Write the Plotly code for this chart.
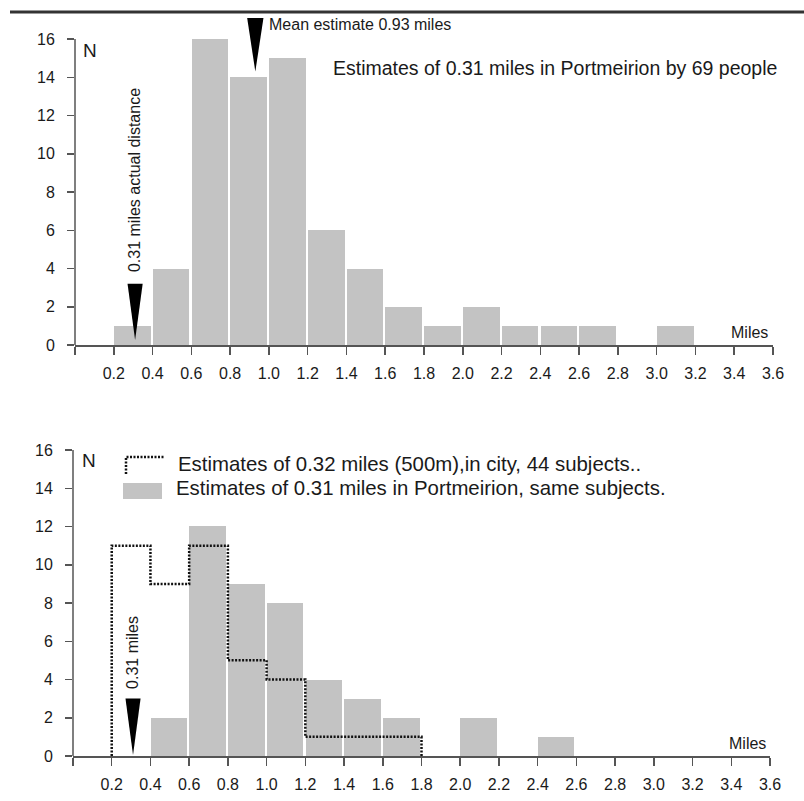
import plotly.graph_objects as go

# ---------------- data ----------------
BIN_WIDTH = 0.2
TOP_BIN_STARTS = [0.2, 0.4, 0.6, 0.8, 1.0, 1.2, 1.4, 1.6, 1.8, 2.0, 2.2, 2.4, 2.6, 2.8, 3.0]
TOP_COUNTS = [1, 4, 16, 14, 15, 6, 4, 2, 1, 2, 1, 1, 1, 0, 1]

BOTTOM_BIN_STARTS = [0.4, 0.6, 0.8, 1.0, 1.2, 1.4, 1.6, 1.8, 2.0, 2.2, 2.4]
PORTMEIRION_COUNTS = [2, 12, 9, 8, 4, 3, 2, 0, 2, 0, 1]

CITY_BIN_STARTS = [0.2, 0.4, 0.6, 0.8, 1.0, 1.2, 1.4, 1.6]
CITY_COUNTS = [11, 9, 11, 5, 4, 1, 1, 1]

ACTUAL_DISTANCE = 0.31
MEAN_ESTIMATE = 0.93

X_TICK_VALUES = [0.0, 0.2, 0.4, 0.6, 0.8, 1.0, 1.2, 1.4, 1.6, 1.8, 2.0,
                 2.2, 2.4, 2.6, 2.8, 3.0, 3.2, 3.4, 3.6]
X_TICK_LABELS = ["", "0.2", "0.4", "0.6", "0.8", "1.0", "1.2", "1.4", "1.6", "1.8",
                 "2.0", "2.2", "2.4", "2.6", "2.8", "3.0", "3.2", "3.4", "3.6"]
Y_TICK_VALUES = [0, 2, 4, 6, 8, 10, 12, 14, 16]
Y_TICK_LABELS = ["0", "2", "4", "6", "8", "10", "12", "14", "16"]

# ---------------- style ----------------
FONT = "Liberation Sans, Arial, Helvetica, sans-serif"
TXT = "#1a1a1a"
BAR = "#c3c3c3"
AX = "#555555"
W, H = 804, 801

fig = go.Figure()

fig.add_trace(go.Bar(x=TOP_BIN_STARTS, y=TOP_COUNTS, width=BIN_WIDTH * 0.945, offset=0.001,
                     marker=dict(color=BAR, line=dict(width=0)), xaxis="x", yaxis="y",
                     showlegend=False, hoverinfo="skip"))
fig.add_trace(go.Bar(x=BOTTOM_BIN_STARTS, y=PORTMEIRION_COUNTS, width=BIN_WIDTH * 0.945, offset=0.001,
                     marker=dict(color=BAR, line=dict(width=0)), xaxis="x2", yaxis="y2",
                     showlegend=False, hoverinfo="skip"))

# city step outline
step_x = [CITY_BIN_STARTS[0]] + CITY_BIN_STARTS + [CITY_BIN_STARTS[-1] + BIN_WIDTH]
step_y = [0] + CITY_COUNTS + [0]
fig.add_trace(go.Scatter(x=step_x, y=step_y, mode="lines", line_shape="hv",
                         line=dict(color="#111111", width=2.5, dash="2px,1.5px"),
                         xaxis="x2", yaxis="y2", showlegend=False, hoverinfo="skip"))

axis_common = dict(showgrid=False, zeroline=False, ticks="outside", tickcolor=AX,
                   tickwidth=1.5, automargin=False,
                   tickfont=dict(family=FONT, size=16, color=TXT))

fig.update_layout(
    width=W, height=H, autosize=False,
    margin=dict(l=0, r=0, t=0, b=0, pad=0),
    paper_bgcolor="white", plot_bgcolor="white",
    bargap=0,
    xaxis=dict(domain=[75 / W, 773 / W], range=[0, 3.6], tickvals=X_TICK_VALUES,
               ticktext=X_TICK_LABELS, ticklen=8, showline=True, linecolor=AX, linewidth=1.5,
               anchor="y", ticklabelstandoff=5, **axis_common),
    yaxis=dict(domain=[1 - 345 / H, 1 - 8.4 / H], range=[0, 17.6], tickvals=Y_TICK_VALUES,
               ticktext=Y_TICK_LABELS, ticklen=7, showline=False, anchor="x",
               ticklabelstandoff=9, **axis_common),
    xaxis2=dict(domain=[73 / W, 770 / W], range=[0, 3.6], tickvals=X_TICK_VALUES,
                ticktext=X_TICK_LABELS, ticklen=8, showline=True, linecolor=AX, linewidth=1.5,
                anchor="y2", ticklabelstandoff=5, **axis_common),
    yaxis2=dict(domain=[1 - 756 / H, 1 - 419.4 / H], range=[0, 17.6], tickvals=Y_TICK_VALUES,
                ticktext=Y_TICK_LABELS, ticklen=7, showline=False, anchor="x2",
                ticklabelstandoff=9, **axis_common),
)

shapes = []
# top rule (placed at the highest row that renders in this environment)
shapes.append(dict(type="line", xref="paper", yref="paper", x0=10 / W, x1=1, y0=1 - 12 / H,
                   y1=1 - 12 / H, line=dict(color="#333333", width=3), layer="above"))
# y axis lines (0..16)
for xr, yr in (("x domain", "y"), ("x2 domain", "y2")):
    shapes.append(dict(type="line", xref=xr, yref=yr, x0=0, x1=0, y0=0, y1=16,
                       line=dict(color=AX, width=1.5)))


def tri(xv, top, tip, hw, xr, yr):
    return dict(type="path", xref=xr, yref=yr,
                path=f"M {xv - hw},{top} L {xv + hw},{top} L {xv},{tip} Z",
                fillcolor="black", line=dict(width=0), layer="above")


shapes.append(tri(ACTUAL_DISTANCE, 3.2, 0.26, 0.039, "x", "y"))
shapes.append(tri(MEAN_ESTIMATE, 17.1, 14.3, 0.042, "x", "y"))
shapes.append(tri(ACTUAL_DISTANCE, 3.0, 0.05, 0.039, "x2", "y2"))

# legend glyphs (bottom)
shapes.append(dict(type="path", xref="paper", yref="paper",
                   path=f"M {126 / W},{1 - 474 / H} L {126 / W},{1 - 457 / H} L {164 / W},{1 - 457 / H}",
                   line=dict(color="#111111", width=2.5, dash="2px,1.5px")))
shapes.append(dict(type="rect", xref="paper", yref="paper", x0=123 / W, x1=162 / W,
                   y0=1 - 499 / H, y1=1 - 483 / H, fillcolor=BAR, line=dict(width=0)))
fig.update_layout(shapes=shapes)


def ann(text, x, y, size, xref="paper", yref="paper", xanchor="left", yanchor="middle",
        angle=0, xshift=0):
    return dict(text=text, x=x, y=y, xref=xref, yref=yref, xanchor=xanchor, yanchor=yanchor,
                showarrow=False, textangle=angle, xshift=xshift,
                font=dict(family=FONT, size=size, color=TXT))


annotations = [
    ann("N", 81 / W, 1 - 50 / H, 19),
    ann("Mean estimate 0.93 miles", MEAN_ESTIMATE, 16.78, 16, xref="x", yref="y", xshift=12),
    ann("Estimates of 0.31 miles in Portmeirion by 69 people", 331 / W, 1 - 68 / H, 19.5),
    ann("0.31 miles actual distance", ACTUAL_DISTANCE, 8.63, 16, xref="x", yref="y",
        xanchor="center", angle=-90),
    ann("Miles", 770 / W, 1 - 332 / H, 16, xanchor="right"),
    ann("N", 80 / W, 1 - 461 / H, 19),
    ann("Estimates of 0.32 miles (500m),in city, 44 subjects..", 176 / W, 1 - 463.5 / H, 20.4),
    ann("Estimates of 0.31 miles in Portmeirion, same subjects.", 174 / W, 1 - 488 / H, 20.4),
    ann("0.31 miles", ACTUAL_DISTANCE, 5.39, 16, xref="x2", yref="y2", xanchor="center",
        angle=-90),
    ann("Miles", 768 / W, 1 - 743 / H, 16, xanchor="right"),
]
fig.update_layout(annotations=annotations)

fig.write_html("out.html",
               config={"displayModeBar": False, "staticPlot": True},
               post_script="document.body.style.margin='0';")
